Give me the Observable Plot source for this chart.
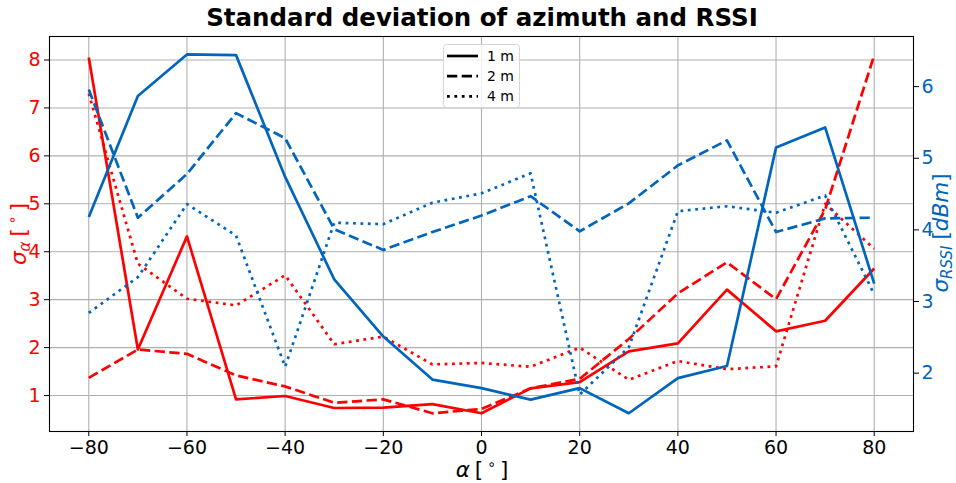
<!DOCTYPE html>
<html><head><meta charset="utf-8">
<script src="https://cdn.jsdelivr.net/npm/d3@7"></script>
<script src="https://cdn.jsdelivr.net/npm/@observablehq/plot@0.6"></script>
<style>
html,body{margin:0;padding:0;background:#fff;overflow:hidden;}
#chart{width:956px;height:483px;}
</style></head><body>
<div id="chart"></div>
<script>
// ---- data ----
const angles = [-80,-70,-60,-50,-40,-30,-20,-10,0,10,20,30,40,50,60,70,80];
const sigmaAlpha1m = [8.05,1.96,4.32,0.92,0.99,0.74,0.75,0.82,0.63,1.15,1.28,1.92,2.09,3.21,2.34,2.56,3.65];
const sigmaAlpha2m = [1.37,1.96,1.87,1.42,1.19,0.85,0.92,0.63,0.72,1.15,1.35,2.18,3.13,3.78,3.01,4.88,8.10];
const sigmaAlpha4m = [7.30,3.75,3.02,2.88,3.51,2.07,2.23,1.65,1.68,1.60,2.00,1.33,1.72,1.55,1.61,5.00,4.06];
const sigmaRssi1m = [4.18,5.87,6.45,6.44,4.74,3.31,2.51,1.91,1.79,1.63,1.79,1.44,1.93,2.10,5.15,5.43,3.25];
const sigmaRssi2m = [5.96,4.17,4.78,5.63,5.28,4.01,3.72,3.97,4.20,4.47,3.98,4.37,4.90,5.25,3.97,4.16,4.17];
const sigmaRssi4m = [2.84,3.34,4.36,3.92,2.09,4.10,4.08,4.38,4.51,4.79,1.70,2.36,4.26,4.33,4.24,4.48,3.10];
const xTicks = [-80,-60,-40,-20,0,20,40,60,80];
const leftTicks = [1,2,3,4,5,6,7,8];
const rightTicks = [2,3,4,5,6];
const legendLabels = ["1 m","2 m","4 m"];
const titleText = "Standard deviation of azimuth and RSSI";

// ---- styles ----
const RED = "#ff0000", BLUE = "#0065bd";
const DASHES = [null, "10.3,4.4", "2.8,4.6"];
const LW = 2.7;
const FONT = "DejaVu Sans";

const leftDomain = [0.25, 8.49];
const rightDomain = [1.185, 6.70];
const toLeft = v => leftDomain[0] + (v - rightDomain[0]) * (leftDomain[1] - leftDomain[0]) / (rightDomain[1] - rightDomain[0]);
const fromLeft = v => rightDomain[0] + (v - leftDomain[0]) * (rightDomain[1] - rightDomain[0]) / (leftDomain[1] - leftDomain[0]);

const alphaSeries = [sigmaAlpha1m, sigmaAlpha2m, sigmaAlpha4m];
const rssiSeries = [sigmaRssi1m, sigmaRssi2m, sigmaRssi4m];
const minus = d => d < 0 ? "\u2212" + Math.abs(d) : String(d);

const lineMarks = [];
alphaSeries.forEach((s, k) => {
  lineMarks.push(Plot.line(s, {x: (d, i) => angles[i], y: d => d, stroke: RED, strokeWidth: LW, strokeDasharray: DASHES[k], strokeLinejoin: "round", strokeLinecap: "butt"}));
});
rssiSeries.forEach((s, k) => {
  lineMarks.push(Plot.line(s, {x: (d, i) => angles[i], y: d => toLeft(d), stroke: BLUE, strokeWidth: LW, strokeDasharray: DASHES[k], strokeLinejoin: "round", strokeLinecap: "butt"}));
});

const plot = Plot.plot({
  width: 956, height: 483,
  marginTop: 36, marginBottom: 52, marginLeft: 49, marginRight: 43,
  style: {fontFamily: FONT, fontSize: "19px", background: "white", color: "black"},
  x: {domain: [-88, 88]},
  y: {domain: leftDomain},
  marks: [
    Plot.gridX(xTicks, {stroke: "#b0b0b0", strokeOpacity: 1, strokeWidth: 1.1}),
    Plot.gridY(leftTicks, {stroke: "#b0b0b0", strokeOpacity: 1, strokeWidth: 1.1}),
    ...lineMarks,
    Plot.frame({stroke: "black", strokeWidth: 1.1}),
    Plot.axisX(xTicks, {tickSize: 5, tickPadding: 4, tickFormat: minus, label: null, fontSize: 19, stroke: "black", fill: "black"}),
    Plot.axisY(leftTicks, {anchor: "left", tickSize: 5, tickPadding: 4, label: null, fontSize: 19, stroke: "black", fill: RED, tickFormat: d => String(d)}),
    Plot.axisY(rightTicks.map(toLeft), {anchor: "right", tickSize: 5, tickPadding: 3, label: null, fontSize: 19, stroke: "black", fill: BLUE, tickFormat: d => String(Math.round(fromLeft(d)))})
  ]
});
document.getElementById("chart").appendChild(plot);

const svg = d3.select(plot);
// title
svg.append("text").attr("x", 482).attr("y", 26).attr("text-anchor", "middle")
  .attr("font-family", FONT).attr("font-size", 24.5).attr("font-weight", "bold").attr("fill", "black")
  .text(titleText);

// x label: α [°]
const xl = svg.append("text").attr("x", 482).attr("y", 476.5).attr("text-anchor", "middle")
  .attr("font-family", FONT).attr("font-size", 21.5).attr("fill", "black");
xl.append("tspan").attr("font-style", "italic").text("α");
xl.append("tspan").attr("dx", 5).text("[");
xl.append("tspan").attr("font-size", 14).attr("dx", 4).attr("dy", -8).text("∘");
xl.append("tspan").attr("dx", 4).attr("dy", 8).text("]");

// left label: σα [°]
const yl = svg.append("text").attr("transform", "translate(26,234) rotate(-90)").attr("text-anchor", "middle")
  .attr("font-family", FONT).attr("font-size", 21.5).attr("fill", RED);
yl.append("tspan").attr("font-style", "italic").text("σ");
yl.append("tspan").attr("font-style", "italic").attr("font-size", 15).attr("dy", 4).text("α");
yl.append("tspan").attr("dy", -4).attr("dx", 5).text("[");
yl.append("tspan").attr("font-size", 14).attr("dx", 4).attr("dy", -9).text("∘");
yl.append("tspan").attr("dx", 4).attr("dy", 9).text("]");

// right label: σRSSI [dBm]
const yr = svg.append("text").attr("transform", "translate(948,233) rotate(-90)").attr("text-anchor", "middle")
  .attr("font-family", FONT).attr("font-size", 21.5).attr("fill", BLUE);
yr.append("tspan").attr("font-style", "italic").text("σ");
yr.append("tspan").attr("font-style", "italic").attr("font-size", 15).attr("dy", 4).text("RSSI");
yr.append("tspan").attr("dy", -4).attr("dx", 6).text("[");
yr.append("tspan").attr("font-style", "italic").text("dBm");
yr.append("tspan").text("]");

// legend
const lg = svg.append("g");
lg.append("rect").attr("x", 443.5).attr("y", 44.5).attr("width", 76).attr("height", 63).attr("rx", 3)
  .attr("fill", "white").attr("fill-opacity", 0.8).attr("stroke", "#d6d6d6").attr("stroke-width", 1);
legendLabels.forEach((lab, k) => {
  const yy = 56 + k * 20.2;
  lg.append("line").attr("x1", 447).attr("x2", 478).attr("y1", yy).attr("y2", yy)
    .attr("stroke", "black").attr("stroke-width", LW).attr("stroke-dasharray", DASHES[k]).attr("stroke-linecap", "butt");
  lg.append("text").attr("x", 487).attr("y", yy + 5).attr("text-anchor", "start").attr("font-family", FONT).attr("font-size", 14)
    .attr("fill", "black").text(lab);
});
</script>
</body></html>
